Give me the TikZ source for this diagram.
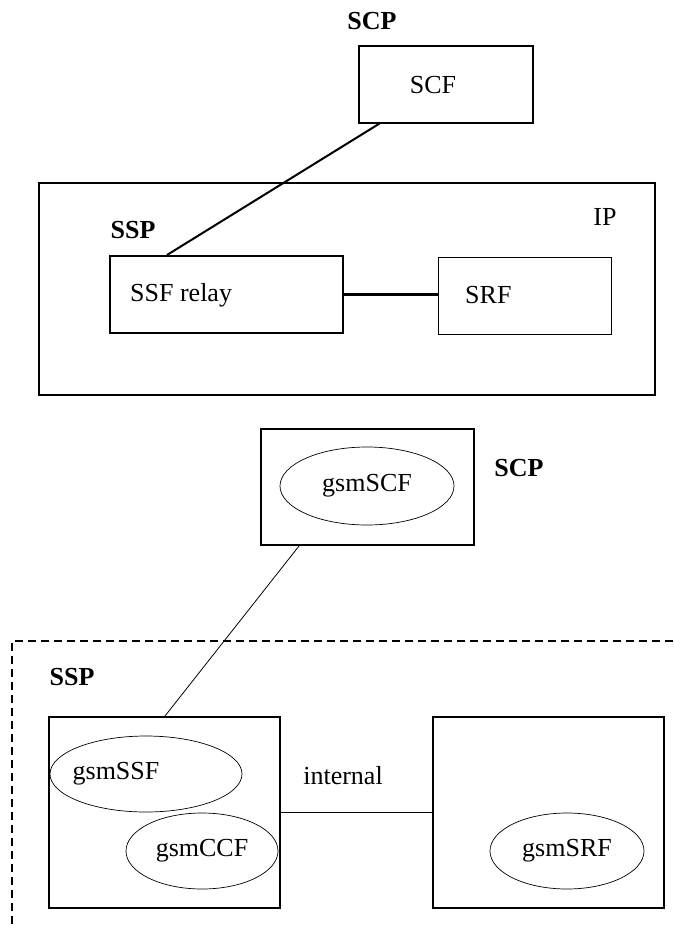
\documentclass[tikz,border=0pt]{standalone}
\usepackage{fontspec}
\setmainfont{Liberation Serif}
\usetikzlibrary{shapes.geometric}

\tikzset{
  txt/.style={font=\fontsize{26}{30}\selectfont, inner sep=0pt},
  hd/.style={txt, font=\fontsize{26}{30}\selectfont\bfseries},
  box/.style={draw, rectangle, inner sep=0pt},
  fn/.style={draw, ellipse, inner sep=0pt, line width=0.7pt, font=\fontsize{26}{30}\selectfont}
}

\begin{document}
\begin{tikzpicture}[x=1pt, y=-1pt]
            \useasboundingbox (0,0) rectangle (673,926);

            \node[hd] (scptop) at (372,21) {SCP};
            \node[box, line width=1.2pt, minimum width=174pt, minimum height=77pt] (scf) at (446,84.5) {};
            \node[txt] (scftxt) at (433,85) {SCF};

            \node[box, line width=1.2pt, minimum width=616pt, minimum height=212pt] (ip) at (347,289) {};
            \node[txt] (iptxt) at (605,217) {IP};
            \node[hd] (ssptop) at (133,230) {SSP};
            \node[box, line width=2pt, minimum width=233pt, minimum height=77pt] (relay) at (226.5,294.5) {};
            \node[txt, anchor=west] (relaytxt) at (130,295) {SSF relay};
            \node[box, line width=1pt, minimum width=173pt, minimum height=77pt] (srf) at (524.5,295.5) {};
            \node[txt, anchor=west] (srftxt) at (465,295) {SRF};

            \draw[line width=2pt] ([xshift=21pt]scf.south west) -- ([xshift=58pt]relay.north west);
            \draw[line width=2.5pt] (relay.east) -- (relay.east -| srf.west);

            \node[box, line width=2pt, minimum width=213pt, minimum height=116pt] (scpbox) at (367.5,487) {};
            \node[fn, minimum width=174pt, minimum height=78pt] (gsmscf) at (367,486) {gsmSCF};
            \node[hd] (scpbot) at (519,468) {SCP};

            \draw[line width=1.5pt, dash pattern=on 8pt off 5pt] (673,641) -- (12,641) -- (12,926);
            \node[hd] (sspbot) at (72,677) {SSP};

            \node[box, line width=2pt, minimum width=231pt, minimum height=191pt] (sspbox) at (164.5,812.5) {};
            \node[fn, minimum width=192pt, minimum height=76pt, label={[txt, xshift=-30pt]center:gsmSSF}] (gsmssf) at (146,774) {};
            \node[fn, minimum width=152pt, minimum height=76pt] (gsmccf) at (202,851) {gsmCCF};

            \node[box, line width=2pt, minimum width=231pt, minimum height=191pt] (ipbox) at (548.5,812.5) {};
            \node[fn, minimum width=154pt, minimum height=76pt] (gsmsrf) at (567,851) {gsmSRF};

            \draw[line width=0.8pt] ([xshift=39pt]scpbox.south west) -- ([xshift=117pt]sspbox.north west);
            \draw[line width=0.8pt] (sspbox.east) -- (ipbox.west);
            \node[txt] (internal) at (343,776) {internal};
\end{tikzpicture}
\end{document}
